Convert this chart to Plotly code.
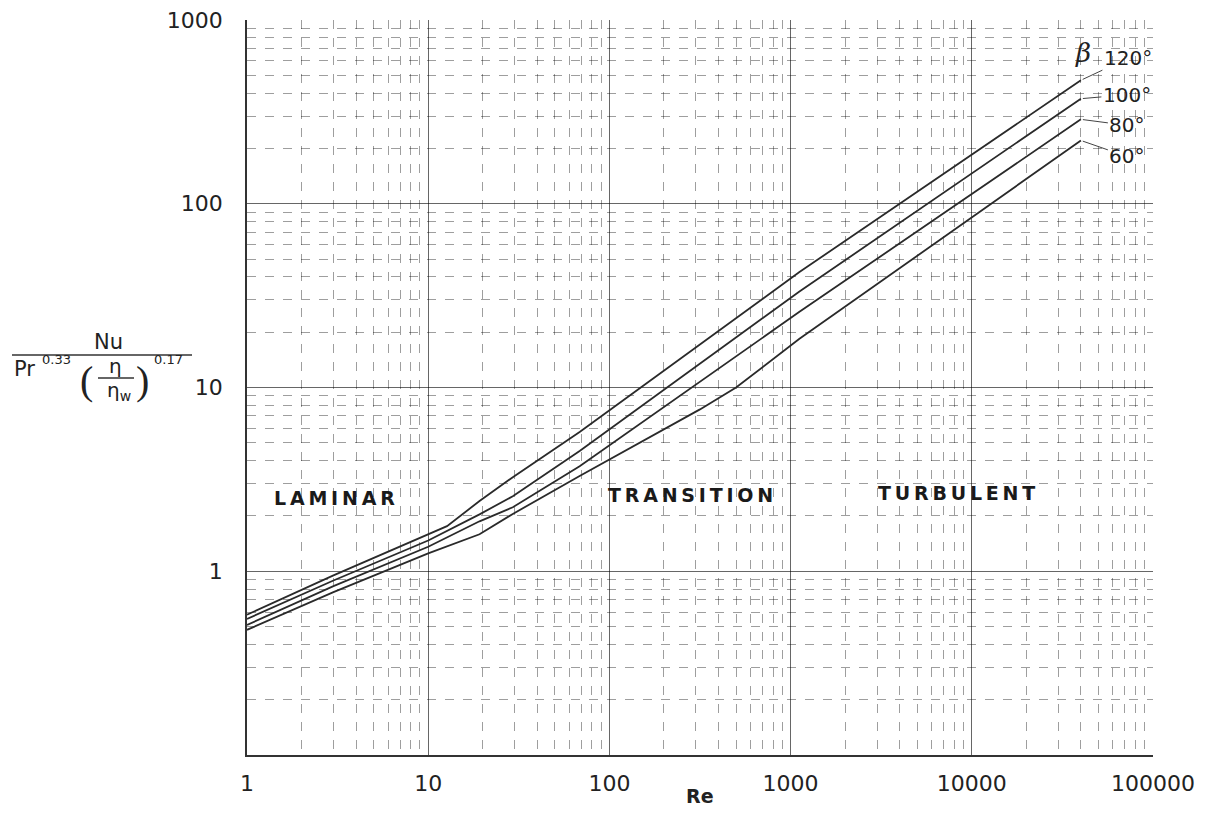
import math
import plotly.graph_objects as go

# ---------------- data ----------------
re_120 = [1, 3, 12.7, 19.2, 29.3, 68.5, 1119, 40000]
nu_120 = [0.58, 0.95, 1.76, 2.41, 3.25, 5.72, 42.5, 470]

re_100 = [1, 3, 10, 19.2, 29.3, 68.5, 1119, 40000]
nu_100 = [0.55, 0.89, 1.47, 2.04, 2.56, 4.51, 33.3, 373]

re_80 = [1, 3, 10, 19.2, 29.3, 68.5, 1119, 40000]
nu_80 = [0.51, 0.83, 1.36, 1.87, 2.23, 3.73, 25.8, 288]

re_60 = [1, 3, 10, 19.2, 29.3, 68.5, 316, 500, 1119, 40000]
nu_60 = [0.48, 0.77, 1.25, 1.59, 2.05, 3.3, 7.6, 10, 18.4, 221]

series = [("120°", re_120, nu_120), ("100°", re_100, nu_100),
          ("80°", re_80, nu_80), ("60°", re_60, nu_60)]

x_ticks = [1, 10, 100, 1000, 10000, 100000]
x_tick_text = ["1", "10", "100", "1000", "10000", "100000"]
y_ticks = [1, 10, 100, 1000]
y_tick_text = ["1", "10", "100", "1000"]

region_labels = [("LAMINAR", 3.05, 2.49), ("TRANSITION", 280, 2.59), ("TURBULENT", 8200, 2.65)]

# ---------------- figure ----------------
# the page body has an 8 px margin, so the figure is drawn 8 px in from the window corner
OFF = 8
W, H = 1198, 798
ML, MR, MT, MB = 247 - OFF, W - (1153 - OFF), 20 - OFF, H - (755 - OFF)
PW, PH = W - ML - MR, H - MT - MB


def P(px, py):
    """window pixel -> paper coordinates"""
    return (px - OFF - ML) / PW, (H - MB - (py - OFF)) / PH


fig = go.Figure()
INK = "#2a2a2a"
for name, xs, ys in series:
    fig.add_trace(go.Scatter(x=xs, y=ys, mode="lines", name=name,
                             line=dict(color=INK, width=1.8), showlegend=False))

minor_vals = [k * 10 ** d for d in range(-1, 5) for k in range(2, 10)]
grid_major = "rgba(0,0,0,0.6)"
grid_minor = "rgba(0,0,0,0.38)"
tickfont = dict(family="DejaVu Sans", size=22, color="#222")

common = dict(type="log", tickmode="array", showgrid=True, gridcolor=grid_major, gridwidth=1,
              showline=True, linecolor="#333", linewidth=1.5, ticks="", zeroline=False,
              tickfont=tickfont, automargin=False, ticklabeloverflow="allow",
              minor=dict(tickmode="array", tickvals=minor_vals, showgrid=True,
                         gridcolor=grid_minor, griddash="dash", gridwidth=1, ticks=""))
fig.update_xaxes(range=[0, 5], tickvals=x_ticks, ticktext=x_tick_text,
                 ticklabelstandoff=8, **common)
fig.update_yaxes(range=[-1, 3], tickvals=y_ticks, ticktext=y_tick_text,
                 ticklabelstandoff=18, **common)

ann = []
# region labels (log axes: annotation positions in log10 units)
for text, xv, yv in region_labels:
    spaced = "\u2009".join(text)
    ann.append(dict(x=math.log10(xv), y=math.log10(yv), xref="x", yref="y",
                    xanchor="center", yanchor="middle",
                    text="<b>" + spaced + "</b>", showarrow=False,
                    font=dict(family="DejaVu Sans", size=19, color="#1a1a1a")))
# curve labels with leader lines to the curve ends
offsets = {"120°": (47, -22), "100°": (46, -4), "80°": (46, 6), "60°": (46, 16)}
for name, xs, ys in series:
    ax, ay = offsets[name]
    ann.append(dict(x=math.log10(xs[-1]), y=math.log10(ys[-1]), xref="x", yref="y",
                    text=name, showarrow=True, xanchor="center", yanchor="middle",
                    arrowhead=0, arrowwidth=1, arrowcolor="#444", ax=ax, ay=ay,
                    standoff=2, font=dict(family="DejaVu Sans", size=20, color="#222")))
# beta
bx, by = P(1093, 36)
ann.append(dict(x=bx, y=by, xref="paper", yref="paper", text="<i>β</i>", showarrow=False,
                font=dict(family="DejaVu Serif", size=26, color="#222")))

# x axis title
tx, ty = P(700, 796)
ann.append(dict(x=tx, y=ty, xref="paper", yref="paper", text="<b>Re</b>", showarrow=False,
                yanchor="middle", font=dict(family="DejaVu Sans", size=19, color="#222")))


# y axis title as a fraction
def txt(px, py, t, size, anchor="center", family="DejaVu Sans"):
    x, y = P(px, py)
    ann.append(dict(x=x, y=y, xref="paper", yref="paper", text=t, showarrow=False,
                    xanchor=anchor, yanchor="middle",
                    font=dict(family=family, size=size, color="#222")))


txt(108, 342, "Nu", 21)
txt(12, 369, "Pr", 21, anchor="left")
txt(40, 360, "0.33", 13, anchor="left")
txt(86, 380, "(", 40, family="DejaVu Sans ExtraLight")
txt(115, 366, "η", 20)
txt(119, 391, "η<sub>w</sub>", 20)
txt(142, 380, ")", 40, family="DejaVu Sans ExtraLight")
txt(152, 360, "0.17", 13, anchor="left")

shapes = []
for (x0p, y0p, x1p, y1p) in [(12, 355, 192, 355), (98, 378, 134, 378)]:
    a0, b0 = P(x0p, y0p)
    a1, b1 = P(x1p, y1p)
    shapes.append(dict(type="line", xref="paper", yref="paper", x0=a0, y0=b0, x1=a1, y1=b1,
                       line=dict(color="#333", width=1.5)))

fig.update_layout(width=W, height=H, margin=dict(l=ML, r=MR, t=MT, b=MB, autoexpand=False),
                  plot_bgcolor="white", paper_bgcolor="white",
                  annotations=ann, shapes=shapes, showlegend=False)

fig.write_html("out.html")
